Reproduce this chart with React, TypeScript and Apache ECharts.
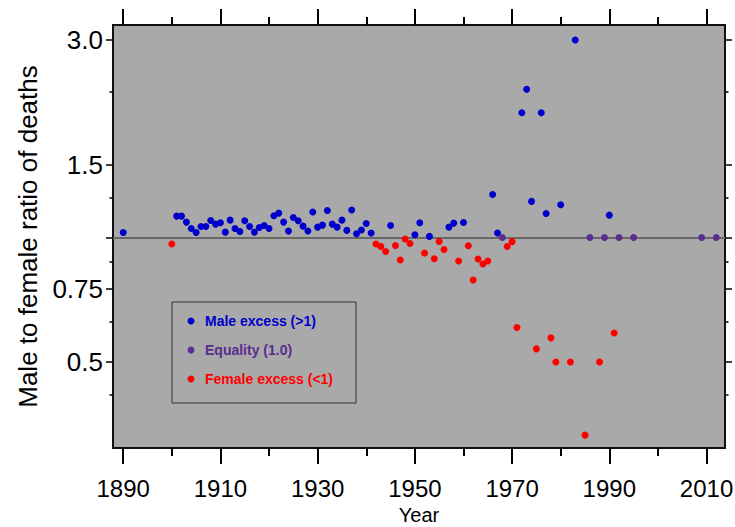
import React, { useEffect, useRef } from "react";
import * as echarts from "echarts";

// ---- data ----
const maleYears = [
  1890, 1901, 1902, 1903, 1904, 1905, 1906, 1907, 1908, 1909, 1910, 1911, 1912, 1913, 1914,
  1915, 1916, 1917, 1918, 1919, 1920, 1921, 1922, 1923, 1924, 1925, 1926, 1927, 1928, 1929,
  1930, 1931, 1932, 1933, 1934, 1935, 1936, 1937, 1938, 1939, 1940, 1941, 1945, 1950, 1951,
  1953, 1957, 1958, 1960, 1966, 1967, 1972, 1973, 1974, 1976, 1977, 1980, 1983, 1990,
];
const maleRatios = [
  1.028, 1.126, 1.126, 1.089, 1.051, 1.028, 1.063, 1.063, 1.099, 1.077, 1.085, 1.03, 1.101, 1.051, 1.034,
  1.097, 1.063, 1.03, 1.057, 1.069, 1.051, 1.128, 1.145, 1.089, 1.036, 1.117, 1.097, 1.065, 1.036, 1.152,
  1.059, 1.071, 1.162, 1.077, 1.059, 1.101, 1.04, 1.165, 1.021, 1.042, 1.081, 1.025, 1.069, 1.015, 1.085,
  1.006, 1.059, 1.083, 1.087, 1.27, 1.025, 2.0, 2.28, 1.222, 2.0, 1.143, 1.199, 3.0, 1.132,
];
const equalYears = [1968, 1986, 1989, 1992, 1995, 2009, 2012];
const equalRatios = [1.0, 1.0, 1.0, 1.0, 1.0, 1.0, 1.0];
const femaleYears = [
  1900, 1942, 1943, 1944, 1946, 1947, 1948, 1949, 1952, 1954, 1955, 1956, 1959, 1961, 1962,
  1963, 1964, 1965, 1969, 1970, 1971, 1975, 1978, 1979, 1982, 1985, 1988, 1991,
];
const femaleRatios = [
  0.964, 0.964, 0.951, 0.925, 0.956, 0.882, 0.991, 0.967, 0.917, 0.888, 0.978, 0.935, 0.877, 0.955, 0.789,
  0.887, 0.863, 0.877, 0.951, 0.977, 0.606, 0.538, 0.572, 0.5, 0.5, 0.333, 0.5, 0.588,
];

const seriesNames = ["Male excess (>1)", "Equality (1.0)", "Female excess (<1)"];
const xLabelYears = [1890, 1910, 1930, 1950, 1970, 1990, 2010];
const xMinorYears = [1900, 1920, 1940, 1960, 1980, 2000];
const yLabelValues = [0.5, 0.75, 1.5, 3.0];
const yLabelTexts = ["0.5", "0.75", "1.5", "3.0"];
const yMajorTickValues = [0.5, 0.75, 1.0, 1.5, 3.0];
const yMinorTickValues = [0.4167, 0.625, 0.875, 1.25, 2.25];
const referenceRatio = 1.0;
const xRange = [1887.9, 2013.8];
const yRange = [0.31, 3.26];

const lg = (v: number) => Math.log10(v);

export default function App() {
  const ref = useRef<HTMLDivElement>(null);

  useEffect(() => {
    if (!ref.current) return;
    const chart = echarts.init(ref.current, null, { renderer: "svg" });
    const font = "'Liberation Sans', Arial, Helvetica, sans-serif";
    const ink = "#000000";
    const blue = "#0000cc";
    const purple = "#5a2d8e";
    const red = "#ff0000";

    const pts = (xs: number[], ys: number[]) => xs.map((x, i) => [x, lg(ys[i])]);

    const xBase = (position: string, ticks: number[], len: number, labels: boolean): any => ({
      type: "value",
      position,
      min: xRange[0],
      max: xRange[1],
      axisLine: { show: false, onZero: false },
      splitLine: { show: false },
      axisTick: {
        show: true,
        customValues: ticks,
        length: len,
        lineStyle: { color: ink, width: 2 },
      },
      axisLabel: labels
        ? {
            show: true,
            customValues: xLabelYears,
            margin: 28,
            color: ink,
            fontSize: 24,
            fontFamily: font,
            formatter: (v: number) => String(Math.round(v)),
          }
        : { show: false },
    });

    const yLabelLogs = yLabelValues.map(lg);
    const yBase = (position: string, ticks: number[], len: number, labels: boolean): any => ({
      type: "value",
      position,
      min: lg(yRange[0]),
      max: lg(yRange[1]),
      axisLine: { show: false, onZero: false },
      splitLine: { show: false },
      axisTick: {
        show: true,
        customValues: ticks.map(lg),
        length: len,
        lineStyle: { color: ink, width: 1.5 },
      },
      axisLabel: labels
        ? {
            show: true,
            customValues: yLabelLogs,
            margin: 10,
            color: ink,
            fontSize: 26,
            fontFamily: font,
            formatter: (v: number) => {
              let best = 0;
              yLabelLogs.forEach((l, i) => {
                if (Math.abs(l - v) < Math.abs(yLabelLogs[best] - v)) best = i;
              });
              return yLabelTexts[best];
            },
          }
        : { show: false },
    });

    const xAxes = [
      {
        ...xBase("bottom", xLabelYears, 16, true),
        name: "Year",
        nameLocation: "middle",
        nameGap: 57,
        nameMoveOverlap: false,
        nameTextStyle: { color: ink, fontSize: 20, fontFamily: font },
      },
      xBase("bottom", xMinorYears, 8, false),
      xBase("top", xLabelYears, 16, false),
      xBase("top", xMinorYears, 8, false),
    ];
    const yAxes = [
      {
        ...yBase("left", yMajorTickValues, 7, true),
        name: "Male to female ratio of deaths",
        nameLocation: "middle",
        nameGap: 72,
        nameTextStyle: { color: ink, fontSize: 26, fontFamily: font },
      },
      yBase("left", yMinorTickValues, 3.5, false),
      yBase("right", yMajorTickValues, 7, false),
      yBase("right", yMinorTickValues, 3.5, false),
    ];

    const scatter = (name: string, data: number[][], color: string): any => ({
      type: "scatter",
      name,
      xAxisIndex: 0,
      yAxisIndex: 0,
      data,
      symbol: "circle",
      symbolSize: 7,
      itemStyle: { color, opacity: 1 },
      z: 3,
    });

    chart.setOption({
      animation: false,
      backgroundColor: "#ffffff",
      grid: {
        left: 113,
        top: 25,
        right: 10,
        bottom: 79,
        outerBoundsMode: "none",
        containLabel: false,
        show: true,
        backgroundColor: "#a9a9a9",
        borderColor: "#111111",
        borderWidth: 2,
      },
      xAxis: xAxes,
      yAxis: yAxes,
      legend: {
        orient: "vertical",
        left: 172,
        top: 302,
        padding: [12, 23, 17, 15.5],
        itemGap: 15,
        itemWidth: 18,
        itemHeight: 7,
        icon: "circle",
        borderColor: "#333333",
        borderWidth: 1,
        textStyle: { fontFamily: font, fontSize: 14, fontWeight: "bold", lineHeight: 14 },
        data: [
          { name: seriesNames[0], textStyle: { color: blue } },
          { name: seriesNames[1], textStyle: { color: purple } },
          { name: seriesNames[2], textStyle: { color: red } },
        ],
      },
      series: [
        {
          type: "scatter",
          name: "reference",
          data: [],
          z: 1,
          markLine: {
            silent: true,
            z: 1,
            symbol: "none",
            label: { show: false },
            lineStyle: { color: "#686868", width: 2, type: "solid" },
            data: [{ yAxis: lg(referenceRatio) }],
          },
        },
        scatter(seriesNames[0], pts(maleYears, maleRatios), blue),
        scatter(seriesNames[1], pts(equalYears, equalRatios), purple),
        scatter(seriesNames[2], pts(femaleYears, femaleRatios), red),
      ],
    });

    return () => chart.dispose();
  }, []);

  return (
    <div
      ref={ref}
      style={{ position: "fixed", left: 0, top: 0, width: 735, height: 527, background: "#fff" }}
    />
  );
}
